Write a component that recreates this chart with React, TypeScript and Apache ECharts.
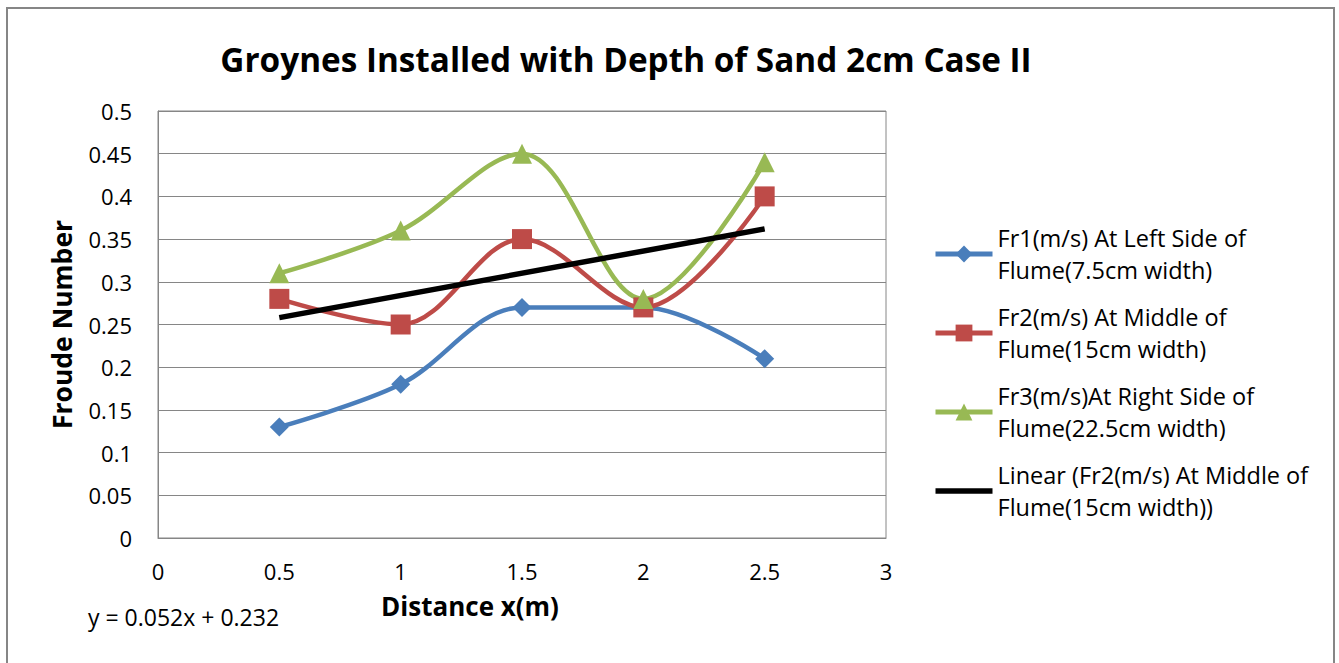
import React, { useEffect, useRef } from "react";
import * as echarts from "echarts";

const xValues = [0.5, 1, 1.5, 2, 2.5];
const fr1 = [0.13, 0.18, 0.27, 0.27, 0.21];
const fr2 = [0.28, 0.25, 0.35, 0.27, 0.4];
const fr3 = [0.31, 0.36, 0.45, 0.28, 0.44];
const trendSlope = 0.052;
const trendIntercept = 0.232;
const trendX = [0.5, 2.5];
const seriesNames = [
  "Fr1(m/s) At Left Side of\nFlume(7.5cm width)",
  "Fr2(m/s) At Middle of\nFlume(15cm width)",
  "Fr3(m/s)At Right Side of\nFlume(22.5cm width)",
  "Linear (Fr2(m/s) At Middle of\nFlume(15cm width))",
];
const titleText = "Groynes Installed with Depth of Sand 2cm Case II";
const xTitle = "Distance x(m)";
const yTitle = "Froude Number";
const equation = "y = 0.052x + 0.232";

const FONT = "Open Sans";

export default function App() {
  const ref = useRef<HTMLDivElement>(null);
  useEffect(() => {
    if (!ref.current) return;
    const chart = echarts.init(ref.current, null, { renderer: "svg" });
    const pts = (ys: number[]) => xValues.map((x, i) => [x, ys[i]]);
    const trend = trendX.map((x) => [x, +(trendSlope * x + trendIntercept).toFixed(4)]);
    chart.setOption({
      animation: false,
      backgroundColor: "#ffffff",
      title: {
        text: titleText,
        left: 621,
        top: 37,
        textAlign: "center",
        textStyle: { fontFamily: FONT, fontSize: 33.3, fontWeight: "bold", color: "#000" },
      },
      grid: { left: 158, right: 453, top: 111, bottom: 125, show: true, borderColor: "#868686", borderWidth: 1 },
      xAxis: {
        type: "value",
        min: 0,
        max: 3,
        interval: 0.5,
        name: xTitle,
        nameLocation: "middle",
        nameGap: 55,
        nameTextStyle: { fontFamily: FONT, fontSize: 26, fontWeight: "bold", color: "#000", padding: [0, 104, 0, 0] },
        axisLine: { show: true, lineStyle: { color: "#868686" } },
        axisTick: { show: false },
        splitLine: { show: false },
        axisLabel: { fontFamily: FONT, fontSize: 22, color: "#000", margin: 22 },
      },
      yAxis: {
        type: "value",
        min: 0,
        max: 0.5,
        interval: 0.05,
        name: yTitle,
        nameLocation: "middle",
        nameGap: 83,
        nameTextStyle: { fontFamily: FONT, fontSize: 26.5, fontWeight: "bold", color: "#000" },
        axisLine: { show: true, lineStyle: { color: "#868686" } },
        axisTick: { show: false },
        splitLine: { show: true, lineStyle: { color: "#868686", width: 1 } },
        axisLabel: { fontFamily: FONT, fontSize: 22, color: "#000", margin: 26 },
      },
      legend: {
        orient: "vertical",
        left: 933,
        top: 206,
        padding: 0,
        itemGap: -17,
        itemWidth: 57,
        itemHeight: 21,
        lineStyle: { width: 5 },
        textStyle: { fontFamily: FONT, fontSize: 23.5, color: "#000", lineHeight: 32, padding: [32, 0, 0, 0] },
        data: seriesNames.map((n, i) =>
          i === 3 ? { name: n, icon: "path://M0,0 H57 V5.5 H0 Z" } : n
        ),
      },
      graphic: [
        {
          type: "rect",
          shape: { x: 7, y: 8, width: 1327, height: 700 },
          style: { fill: "none", stroke: "#868686", lineWidth: 2 },
          silent: true,
        },
        {
          type: "text",
          left: 88,
          top: 605,
          style: { text: equation, fontFamily: FONT, fontSize: 23, fill: "#000" },
        },
      ],
      series: [
        {
          name: seriesNames[0],
          type: "line",
          data: pts(fr1),
          smooth: 0.35,
          symbol: "diamond",
          symbolSize: 19,
          lineStyle: { color: "#4A7EBB", width: 4.5 },
          itemStyle: { color: "#4A7EBB" },
        },
        {
          name: seriesNames[1],
          type: "line",
          data: pts(fr2),
          smooth: 0.35,
          symbol: "rect",
          symbolSize: 20,
          lineStyle: { color: "#BE4B48", width: 4.5 },
          itemStyle: { color: "#BE4B48" },
        },
        {
          name: seriesNames[2],
          type: "line",
          data: pts(fr3),
          smooth: 0.35,
          symbol: "triangle",
          symbolSize: 20,
          lineStyle: { color: "#98B954", width: 4.5 },
          itemStyle: { color: "#98B954" },
        },
        {
          name: seriesNames[3],
          type: "line",
          data: trend,
          symbol: "none",
          lineStyle: { color: "#000", width: 5.5 },
          itemStyle: { color: "#000" },
        },
      ],
    });
    return () => chart.dispose();
  }, []);
  return (
    <div
      ref={ref}
      style={{ position: "absolute", left: 0, top: 0, width: 1339, height: 663 }}
    />
  );
}
